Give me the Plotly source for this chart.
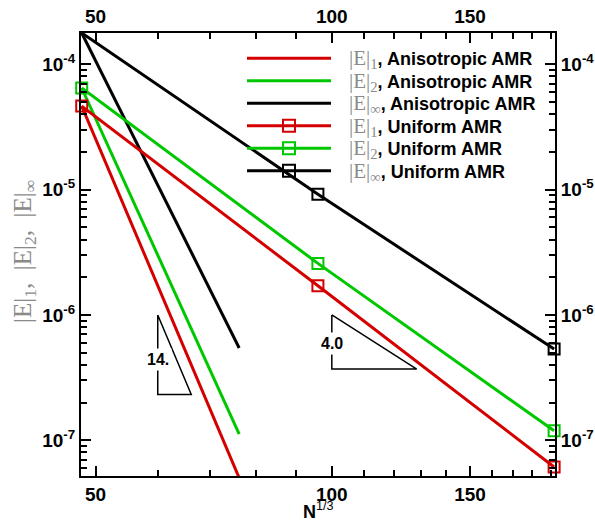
import math
import plotly.graph_objects as go

# ---------------- data ----------------
x_uniform = [48, 96, 192]
uniform_e1 = [4.64e-5, 1.71e-6, 6.12e-8]
uniform_e2 = [6.47e-5, 2.58e-6, 1.19e-7]
uniform_einf = [1.78e-4, 9.17e-6, 5.34e-7]

x_aniso = [48, 76.2]
aniso_e1 = [4.64e-5, 5.0e-8]
aniso_e2 = [6.47e-5, 1.12e-7]
aniso_einf = [1.78e-4, 5.45e-7]

# slope triangles
tri14_x = [60, 60, 66.2, 60]
tri14_y = [1.0e-6, 2.32e-7, 2.32e-7, 1.0e-6]
tri14_label = "14."
tri14_label_pos = (60, 4.4e-7)

tri4_x = [100, 100, 128.3, 100]
tri4_y = [1.0e-6, 3.7e-7, 3.7e-7, 1.0e-6]
tri4_label = "4.0"
tri4_label_pos = (100, 5.9e-7)

x_tickvals = [50, 100, 150]
x_ticktext = ["<b>50</b>", "<b>100</b>", "<b>150</b>"]
x_minor = [60, 70, 80, 90, 110, 120, 130, 140, 160, 170, 180, 190]
y_tickvals = [1e-7, 1e-6, 1e-5, 1e-4]
y_ticktext = ["<b>10<sup>-7</sup></b>", "<b>10<sup>-6</sup></b>",
              "<b>10<sup>-5</sup></b>", "<b>10<sup>-4</sup></b>"]
y_minor = [m * 10.0 ** e for e in (-8, -7, -6, -5) for m in range(2, 10)]

legend_norms = ["1", "2", "∞", "1", "2", "∞"]
legend_kinds = ["Anisotropic AMR"] * 3 + ["Uniform AMR"] * 3

RED = "#d40000"
GREEN = "#00c800"
BLACK = "#000000"
GRAY = "#8a8a8a"
legend_colors = [RED, GREEN, BLACK, RED, GREEN, BLACK]
legend_marker = [False, False, False, True, True, True]

W, H = 595, 523
ML, MR, MT, MB = 81, 40, 33, 47
PW, PH = W - ML - MR, H - MT - MB

SANS = "Liberation Sans, Arial, sans-serif"


def px(x):
    return (x - ML) / PW


def py(y):
    return (H - MB - y) / PH


fig = go.Figure()

line_w = 3
for xs, ys, c in [(x_aniso, aniso_e1, RED), (x_aniso, aniso_e2, GREEN), (x_aniso, aniso_einf, BLACK)]:
    fig.add_trace(go.Scatter(x=xs, y=ys, mode="lines", line=dict(color=c, width=line_w),
                             showlegend=False, hoverinfo="skip"))
for xs, ys, c in [(x_uniform, uniform_e1, RED), (x_uniform, uniform_e2, GREEN), (x_uniform, uniform_einf, BLACK)]:
    fig.add_trace(go.Scatter(x=xs, y=ys, mode="lines+markers", line=dict(color=c, width=line_w),
                             marker=dict(symbol="square-open", size=11, color=c, line=dict(width=2, color=c)),
                             cliponaxis=False, showlegend=False, hoverinfo="skip"))

for tx, ty in [(tri14_x, tri14_y), (tri4_x, tri4_y)]:
    fig.add_trace(go.Scatter(x=tx, y=ty, mode="lines", line=dict(color="black", width=1.5),
                             showlegend=False, hoverinfo="skip"))

# invisible trace for secondary axes
fig.add_trace(go.Scatter(x=[100], y=[1e-6], xaxis="x2", yaxis="y2", mode="markers",
                         marker=dict(opacity=0), showlegend=False, hoverinfo="skip"))

tickfont = dict(family=SANS, size=19, color="black")
xr = [math.log10(47.9), math.log10(192.5)]
yr = [-7.285, -3.75]

common = dict(type="log", showline=True, linewidth=2, linecolor="black", ticks="inside",
              ticklen=10, tickwidth=2, tickcolor="black", showgrid=False, zeroline=False,
              tickfont=tickfont, tickmode="array")
xcommon = dict(common, range=xr, tickvals=x_tickvals, ticktext=x_ticktext,
               minor=dict(tickmode="array", tickvals=x_minor, ticks="inside", ticklen=6,
                          tickwidth=1.5, tickcolor="black", showgrid=False))
ycommon = dict(common, range=yr, tickvals=y_tickvals, ticktext=y_ticktext,
               minor=dict(tickmode="array", tickvals=y_minor, ticks="inside", ticklen=6,
                          tickwidth=1.5, tickcolor="black", showgrid=False))

fig.update_layout(
    width=W, height=H,
    margin=dict(l=ML, r=MR, t=MT, b=MB, autoexpand=False),
    paper_bgcolor="white", plot_bgcolor="white",
    showlegend=False,
    xaxis=dict(xcommon, side="bottom"),
    xaxis2=dict(xcommon, side="top", overlaying="x", matches="x"),
    yaxis=dict(ycommon, side="left"),
    yaxis2=dict(ycommon, side="right", overlaying="y", matches="y"),
)

annotations = []
shapes = []

# custom legend
legend_rows = [58.3, 80.8, 103.3, 125.8, 148.3, 170.8]
for i, yrow in enumerate(legend_rows):
    c = legend_colors[i]
    shapes.append(dict(type="line", xref="paper", yref="paper", x0=px(247), x1=px(331),
                       y0=py(yrow), y1=py(yrow), line=dict(color=c, width=3)))
    if legend_marker[i]:
        shapes.append(dict(type="rect", xref="paper", yref="paper", x0=px(283), x1=px(295),
                           y0=py(yrow + 6), y1=py(yrow - 6), line=dict(color=c, width=2),
                           fillcolor="rgba(0,0,0,0)"))
    txt = ('<span style="font-family:Liberation Serif;color:%s;font-size:21px">'
           '|E|<sub>%s</sub></span><b>, %s</b>' % (GRAY, legend_norms[i], legend_kinds[i]))
    annotations.append(dict(xref="paper", yref="paper", x=px(347), y=py(yrow + 1), xanchor="left",
                            yanchor="middle", showarrow=False, text=txt,
                            font=dict(family=SANS, size=18, color="black")))

# triangle labels (log axes => log10 positions)
for lab, (lx, ly) in [(tri14_label, tri14_label_pos), (tri4_label, tri4_label_pos)]:
    annotations.append(dict(xref="x", yref="y", x=math.log10(lx), y=math.log10(ly),
                            text="<b>%s</b>" % lab,
                            showarrow=False, bgcolor="white", borderpad=2,
                            font=dict(family=SANS, size=16, color="black")))

# axis titles
annotations.append(dict(xref="paper", yref="paper", x=px(318), y=py(511), xanchor="center",
                        yanchor="middle", showarrow=False,
                        text="<b>N</b><sup>1/3</sup>",
                        font=dict(family=SANS, size=18, color="black")))
annotations.append(dict(xref="paper", yref="paper", x=px(24), y=py(252), xanchor="center",
                        yanchor="middle", showarrow=False, textangle=-90,
                        text="|E|<sub>1</sub>,  |E|<sub>2</sub>,  |E|<sub>∞</sub>",
                        font=dict(family="Liberation Serif, serif", size=25, color=GRAY)))

fig.update_layout(annotations=annotations, shapes=shapes)
fig.write_html("out.html")
